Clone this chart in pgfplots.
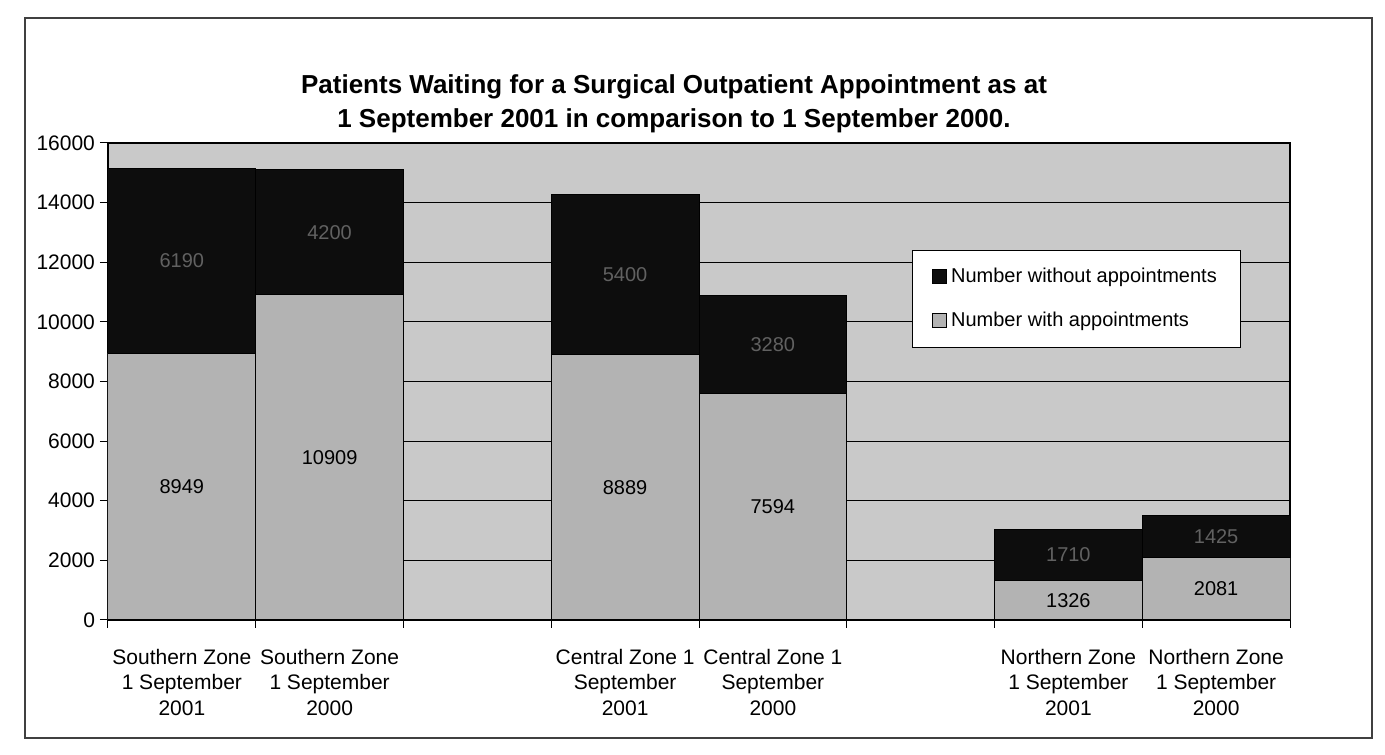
\documentclass[border=0pt]{standalone}
\usepackage{pgfplots}
\usepackage{pgfplotstable}
\usepackage{fontspec}
\setmainfont{Liberation Sans}
\pgfplotsset{compat=1.18}
\definecolor{plotbg}{HTML}{C9C9C9}
\definecolor{lightbar}{HTML}{B3B3B3}
\definecolor{darkbar}{HTML}{0D0D0D}
\pgfplotstableread{
x with without
0 8949 6190
1 10909 4200
3 8889 5400
4 7594 3280
6 1326 1710
7 2081 1425
}\datatable
\begin{document}
\begin{tikzpicture}
\useasboundingbox (0,0) rectangle (692.5pt,377pt);
\draw[black!75, line width=0.7pt] (12.5pt,8pt) rectangle (686pt,368pt);
\node[font=\bfseries\fontsize{13}{17}\selectfont, align=center] at (337pt,325pt)
  {Patients Waiting for a Surgical Outpatient Appointment as at\\1 September 2001 in comparison to 1 September 2000.};
\begin{axis}[
  at={(54pt,67pt)}, anchor=south west,
  scale only axis, width=591pt, height=238.5pt,
  ybar stacked, bar width=1,
  xmin=-0.5, xmax=7.5, ymin=0, ymax=16000,
  xtick={0,1,3,4,6,7},
  xticklabels={{Southern Zone\\1 September\\2001},{Southern Zone\\1 September\\2000},{Central Zone 1\\September\\2001},{Central Zone 1\\September\\2000},{Northern Zone\\1 September\\2001},{Northern Zone\\1 September\\2000}},
  minor xtick={-0.5,0.5,...,7.5},
  ytick={0,2000,...,16000},
  minor ytick={0,2000,...,16000},
  xtick pos=bottom, ytick pos=left,
  major tick length=0pt,
  minor tick length=4pt,
  tick align=outside,
  tick style={black, line width=0.5pt},
  ymajorgrids, grid style={black, line width=0.5pt},
  axis background/.style={fill=plotbg},
  axis line style={black, line width=0.6pt},
  scaled y ticks=false,
  /pgf/number format/assume math mode=true,
  yticklabel={\pgfmathprintnumber[fixed,1000 sep={}]{\tick}},
  yticklabel style={font=\fontsize{10.5}{12}\selectfont, xshift=-3pt},
  xticklabel style={align=center, font=\fontsize{10.5}{12.75}\selectfont, yshift=-11pt},
  legend style={at={(0.68,0.776)}, anchor=north west, draw=black, fill=white,
    font=\fontsize{10}{12}\selectfont, row sep=9pt, inner xsep=10pt, inner ysep=7pt,
    /tikz/every even column/.append style={column sep=4pt}},
  legend cell align=left,
  reverse legend,
  point meta=explicit,
  nodes near coords={\pgfmathprintnumber[fixed,1000 sep={}]{\pgfplotspointmeta}},
  every node near coord/.append style={anchor=center, font=\fontsize{10}{12}\selectfont},
]
\addplot[fill=lightbar, draw=black, line width=0.5pt,
  every node near coord/.append style={text=black},
  legend image code/.code={\draw[fill=lightbar,draw=black] (0pt,-3.5pt) rectangle (7pt,3.5pt);}]
  table[x=x, y=with, meta=with] {\datatable};
\addlegendentry{Number with appointments}
\addplot[fill=darkbar, draw=black, line width=0.5pt,
  every node near coord/.append style={text=black!62},
  legend image code/.code={\draw[fill=darkbar,draw=black] (0pt,-3.5pt) rectangle (7pt,3.5pt);}]
  table[x=x, y=without, meta=without] {\datatable};
\addlegendentry{Number without appointments}
\end{axis}
\end{tikzpicture}
\end{document}
